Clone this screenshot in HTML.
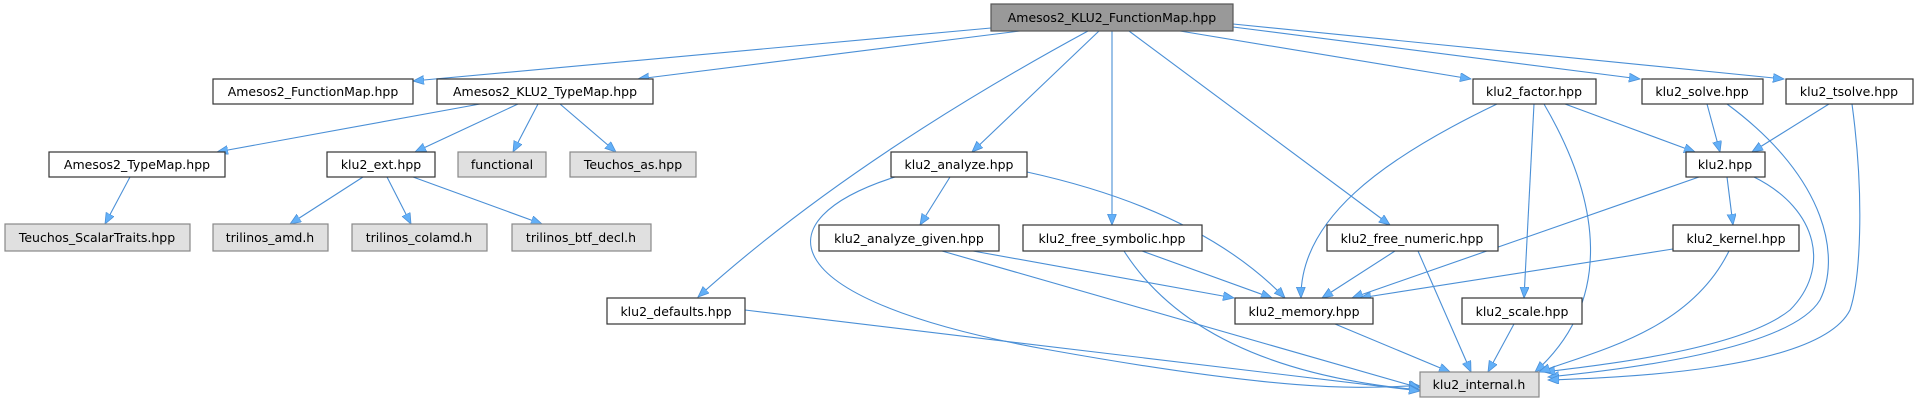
<!DOCTYPE html>
<html><head><meta charset="utf-8"><style>
html,body{margin:0;padding:0;background:#fff;}
svg{display:block;}
text{font-family:"DejaVu Sans","Liberation Sans",sans-serif;font-size:12.5px;fill:#000;text-anchor:middle;}
.e{fill:none;stroke:#4a8fd6;stroke-width:1.1;marker-end:url(#a);}
.n{fill:#fff;stroke:#333;stroke-width:1.2;}
.g{fill:#e0e0e0;stroke:#888;stroke-width:1.2;}
.r{fill:#999;stroke:#555;stroke-width:1.2;}
</style></head><body>
<svg width="1917" height="403" viewBox="0 0 1917 403" xmlns="http://www.w3.org/2000/svg">
<defs><marker id="a" markerWidth="12" markerHeight="10" refX="11" refY="4.5" orient="auto" markerUnits="userSpaceOnUse"><path d="M0,0 L11,4.5 L0,9 Z" fill="#63b0f8" stroke="#4a8fd6" stroke-width="0.8"/></marker></defs>
<g>
<path class="e" d="M991,28 L413,81"/>
<path class="e" d="M1020,31 L638,79"/>
<path class="e" d="M1099,31 L972,152"/>
<path class="e" d="M1088,31 Q850,160 698,297"/>
<path class="e" d="M1112,31 L1112,225"/>
<path class="e" d="M1129,31 L1390,225"/>
<path class="e" d="M1180,31 L1471,79"/>
<path class="e" d="M1233,27 L1640,79"/>
<path class="e" d="M1233,24 L1784,79"/>
<path class="e" d="M480,104 L217,152"/>
<path class="e" d="M518,104 L415,152"/>
<path class="e" d="M538,104 L513,152"/>
<path class="e" d="M560,104 L616,152"/>
<path class="e" d="M130,177 L105,224"/>
<path class="e" d="M363,177 L290,224"/>
<path class="e" d="M387,177 L411,224"/>
<path class="e" d="M413,177 L542,224"/>
<path class="e" d="M950,177 L920,225"/>
<path class="e" d="M1027,172 Q1200,210 1285,298"/>
<path class="e" d="M895,177 C760,220 770,300 1050,350 S1380,385 1420,386"/>
<path class="e" d="M973,251 L1234,298"/>
<path class="e" d="M942,251 L1420,388"/>
<path class="e" d="M1142,251 L1272,298"/>
<path class="e" d="M1124,251 Q1200,370 1420,390"/>
<path class="e" d="M745,310 L1420,391"/>
<path class="e" d="M1395,251 L1322,298"/>
<path class="e" d="M1418,251 L1471,372"/>
<path class="e" d="M1497,104 C1380,160 1300,220 1301,298"/>
<path class="e" d="M1565,104 L1695,152"/>
<path class="e" d="M1534,104 L1524,298"/>
<path class="e" d="M1544,104 C1600,200 1615,300 1535,372"/>
<path class="e" d="M1707,104 L1720,152"/>
<path class="e" d="M1727,104 C1830,180 1840,260 1820,300 C1790,350 1620,370 1548,377"/>
<path class="e" d="M1829,104 L1752,152"/>
<path class="e" d="M1852,104 C1865,200 1860,280 1850,310 C1820,370 1620,378 1548,380"/>
<path class="e" d="M1699,177 L1352,298"/>
<path class="e" d="M1727,177 L1733,225"/>
<path class="e" d="M1754,177 C1820,210 1830,270 1790,310 C1740,350 1600,365 1544,372"/>
<path class="e" d="M1673,249 L1360,298"/>
<path class="e" d="M1729,251 C1690,330 1600,350 1539,372"/>
<path class="e" d="M1335,324 L1450,372"/>
<path class="e" d="M1514,324 L1488,372"/>
</g>
<rect class="r" x="991" y="4" width="242" height="27"/><text x="1112" y="22">Amesos2_KLU2_FunctionMap.hpp</text>
<rect class="n" x="213" y="79" width="200" height="25"/><text x="313" y="96">Amesos2_FunctionMap.hpp</text>
<rect class="n" x="437" y="79" width="216" height="25"/><text x="545" y="96">Amesos2_KLU2_TypeMap.hpp</text>
<rect class="n" x="1473" y="79" width="123" height="25"/><text x="1534" y="96">klu2_factor.hpp</text>
<rect class="n" x="1642" y="79" width="121" height="25"/><text x="1702" y="96">klu2_solve.hpp</text>
<rect class="n" x="1786" y="79" width="127" height="25"/><text x="1849" y="96">klu2_tsolve.hpp</text>
<rect class="n" x="49" y="152" width="176" height="25"/><text x="137" y="169">Amesos2_TypeMap.hpp</text>
<rect class="n" x="327" y="152" width="108" height="25"/><text x="381" y="169">klu2_ext.hpp</text>
<rect class="g" x="458" y="152" width="88" height="25"/><text x="502" y="169">functional</text>
<rect class="g" x="570" y="152" width="126" height="25"/><text x="633" y="169">Teuchos_as.hpp</text>
<rect class="n" x="891" y="152" width="136" height="25"/><text x="959" y="169">klu2_analyze.hpp</text>
<rect class="n" x="1686" y="152" width="79" height="25"/><text x="1725" y="169">klu2.hpp</text>
<rect class="g" x="5" y="224" width="185" height="27"/><text x="97" y="242">Teuchos_ScalarTraits.hpp</text>
<rect class="g" x="213" y="224" width="115" height="27"/><text x="270" y="242">trilinos_amd.h</text>
<rect class="g" x="352" y="224" width="135" height="27"/><text x="419" y="242">trilinos_colamd.h</text>
<rect class="g" x="512" y="224" width="139" height="27"/><text x="581" y="242">trilinos_btf_decl.h</text>
<rect class="n" x="819" y="225" width="180" height="26"/><text x="909" y="243">klu2_analyze_given.hpp</text>
<rect class="n" x="1023" y="225" width="179" height="26"/><text x="1112" y="243">klu2_free_symbolic.hpp</text>
<rect class="n" x="1327" y="225" width="171" height="26"/><text x="1412" y="243">klu2_free_numeric.hpp</text>
<rect class="n" x="1673" y="225" width="126" height="26"/><text x="1736" y="243">klu2_kernel.hpp</text>
<rect class="n" x="607" y="298" width="138" height="26"/><text x="676" y="316">klu2_defaults.hpp</text>
<rect class="n" x="1235" y="298" width="138" height="26"/><text x="1304" y="316">klu2_memory.hpp</text>
<rect class="n" x="1462" y="298" width="120" height="26"/><text x="1522" y="316">klu2_scale.hpp</text>
<rect class="g" x="1420" y="372" width="119" height="25"/><text x="1479" y="389">klu2_internal.h</text>
</svg>
</body></html>
